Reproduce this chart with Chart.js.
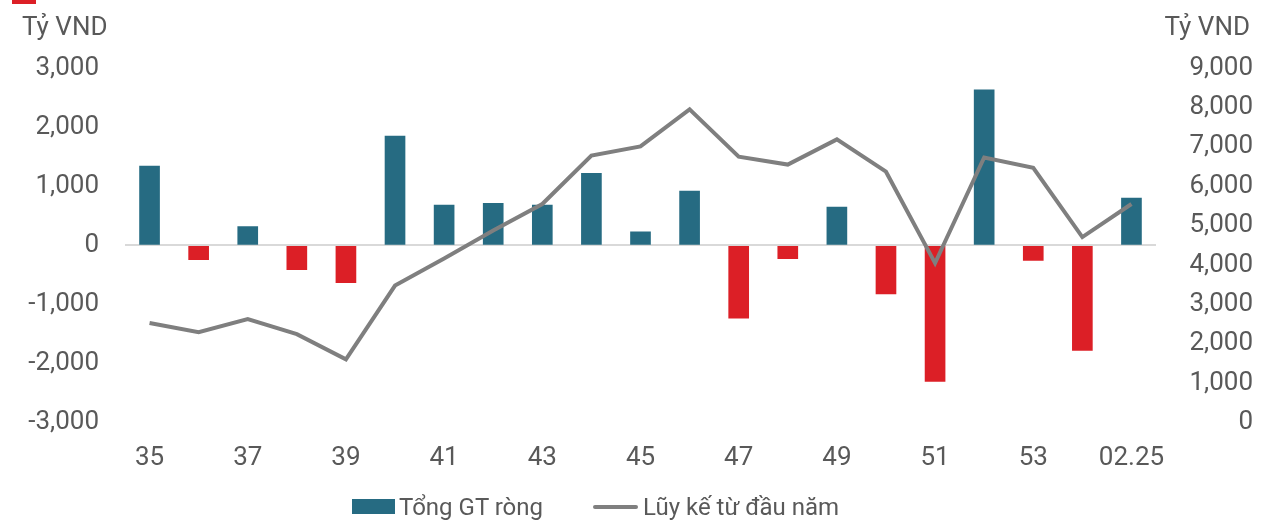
<!DOCTYPE html>
<html lang="en">
<head>
<meta charset="UTF-8">
<script src="https://cdn.jsdelivr.net/npm/chart.js"></script>
<title>Tổng GT ròng</title>
<style>
    body { margin: 0; background: #fff; font-family: Roboto, "Noto Sans", sans-serif; color: #595959; }
    .wrap { position: relative; width: 1261px; height: 520px; }
    .mark { position: absolute; left: 12px; top: 0; width: 24px; height: 4px; background: #dc1f26; }
    .legend { position: absolute; left: 0; top: 492px; width: 1261px; height: 30px; font-size: 24px; line-height: 30px; }
    .legend span { position: absolute; top: 0; white-space: nowrap; }
    .legend i { position: absolute; display: block; }
</style>
</head>
<body>
<div class="wrap">
    <div class="mark"></div>
    <canvas id="chart" width="1261" height="520"></canvas>
    <div class="legend" id="legend"></div>
</div>
<script>
    // data
    const weeks = ['35','36','37','38','39','40','41','42','43','44','45','46','47','48','49','50','51','52','53','54','02.25'];
    const netValue = [1340, -240, 320, -410, -630, 1850, 680, 710, 680, 1220, 230, 920, -1230, -225, 650, -820, -2300, 2630, -255, -1775, 800];
    const ytdTotal = [2530, 2300, 2630, 2250, 1610, 3480, 4170, 4880, 5550, 6780, 7010, 7950, 6750, 6550, 7190, 6370, 4050, 6730, 6470, 4710, 5550];
    const seriesNames = ['Tổng GT ròng', 'Lũy kế từ đầu năm'];
    const axisUnit = 'Tỷ VND';

    const teal = '#266b82';
    const red = '#dc1f26';
    const grey = '#7f7f7f';
    const textCol = '#595959';
    const fontFam = 'Roboto, "Noto Sans", sans-serif';

    // legend done by hand, the reference has tight gaps
    const lg = document.getElementById('legend');
    lg.innerHTML =
        '<i style="left:352px;top:7px;width:43px;height:15px;background:' + teal + '"></i>' +
        '<span style="left:399px">' + seriesNames[0] + '</span>' +
        '<i style="left:593px;top:13px;width:45px;height:4px;border-radius:2px;background:' + grey + '"></i>' +
        '<span style="left:643px">' + seriesNames[1] + '</span>';

    const unitTitles = {
        id: 'unitTitles',
        afterDraw(chart) {
            const c = chart.ctx;
            c.save();
            c.fillStyle = textCol;
            c.font = '26px ' + fontFam;
            c.textBaseline = 'middle';
            c.textAlign = 'left';
            c.fillText(axisUnit, 22, 28);
            c.textAlign = 'right';
            c.fillText(axisUnit, 1250, 28);
            c.restore();
        }
    };

    const ctx = document.getElementById('chart').getContext('2d');
    new Chart(ctx, {
        data: {
            labels: weeks,
            datasets: [
                {
                    type: 'bar',
                    label: seriesNames[0],
                    data: netValue,
                    backgroundColor: netValue.map(v => v < 0 ? red : teal),
                    barThickness: 20,
                    yAxisID: 'y',
                    order: 2,
                },
                {
                    type: 'line',
                    label: seriesNames[1],
                    data: ytdTotal,
                    borderColor: grey,
                    backgroundColor: grey,
                    borderWidth: 4,
                    pointRadius: 0,
                    tension: 0,
                    yAxisID: 'y2',
                    order: 1,
                },
            ],
        },
        options: {
            responsive: false,
            animation: false,
            layout: { padding: { top: 68, left: 0, right: 8, bottom: 34 } },
            plugins: {
                tooltip: { enabled: false },
                legend: { display: false },
            },
            scales: {
                x: {
                    grid: { display: false },
                    border: { display: false },
                    ticks: {
                        autoSkip: false,
                        maxRotation: 0,
                        color: textCol,
                        font: { family: fontFam, size: 26 },
                        padding: 12,
                        callback: function (val, i) { return i % 2 === 0 ? this.getLabelForValue(val) : ''; },
                    },
                },
                y: {
                    position: 'left',
                    min: -3000,
                    max: 3000,
                    afterFit(s) { s.width = 125; },
                    grid: {
                        drawTicks: false,
                        lineWidth: 2,
                        color: c => c.tick && c.tick.value === 0 ? '#d9d9d9' : 'rgba(0,0,0,0)',
                    },
                    border: { display: false },
                    ticks: {
                        stepSize: 1000,
                        padding: 26,
                        color: textCol,
                        font: { family: fontFam, size: 26 },
                    },
                },
                y2: {
                    position: 'right',
                    min: 0,
                    max: 9000,
                    afterFit(s) { s.width = 97; },
                    grid: { display: false, drawTicks: false },
                    border: { display: false },
                    ticks: {
                        stepSize: 1000,
                        crossAlign: 'far',
                        padding: 10,
                        color: textCol,
                        font: { family: fontFam, size: 26 },
                    },
                },
            },
        },
        plugins: [unitTitles],
    });
</script>
</body>
</html>
